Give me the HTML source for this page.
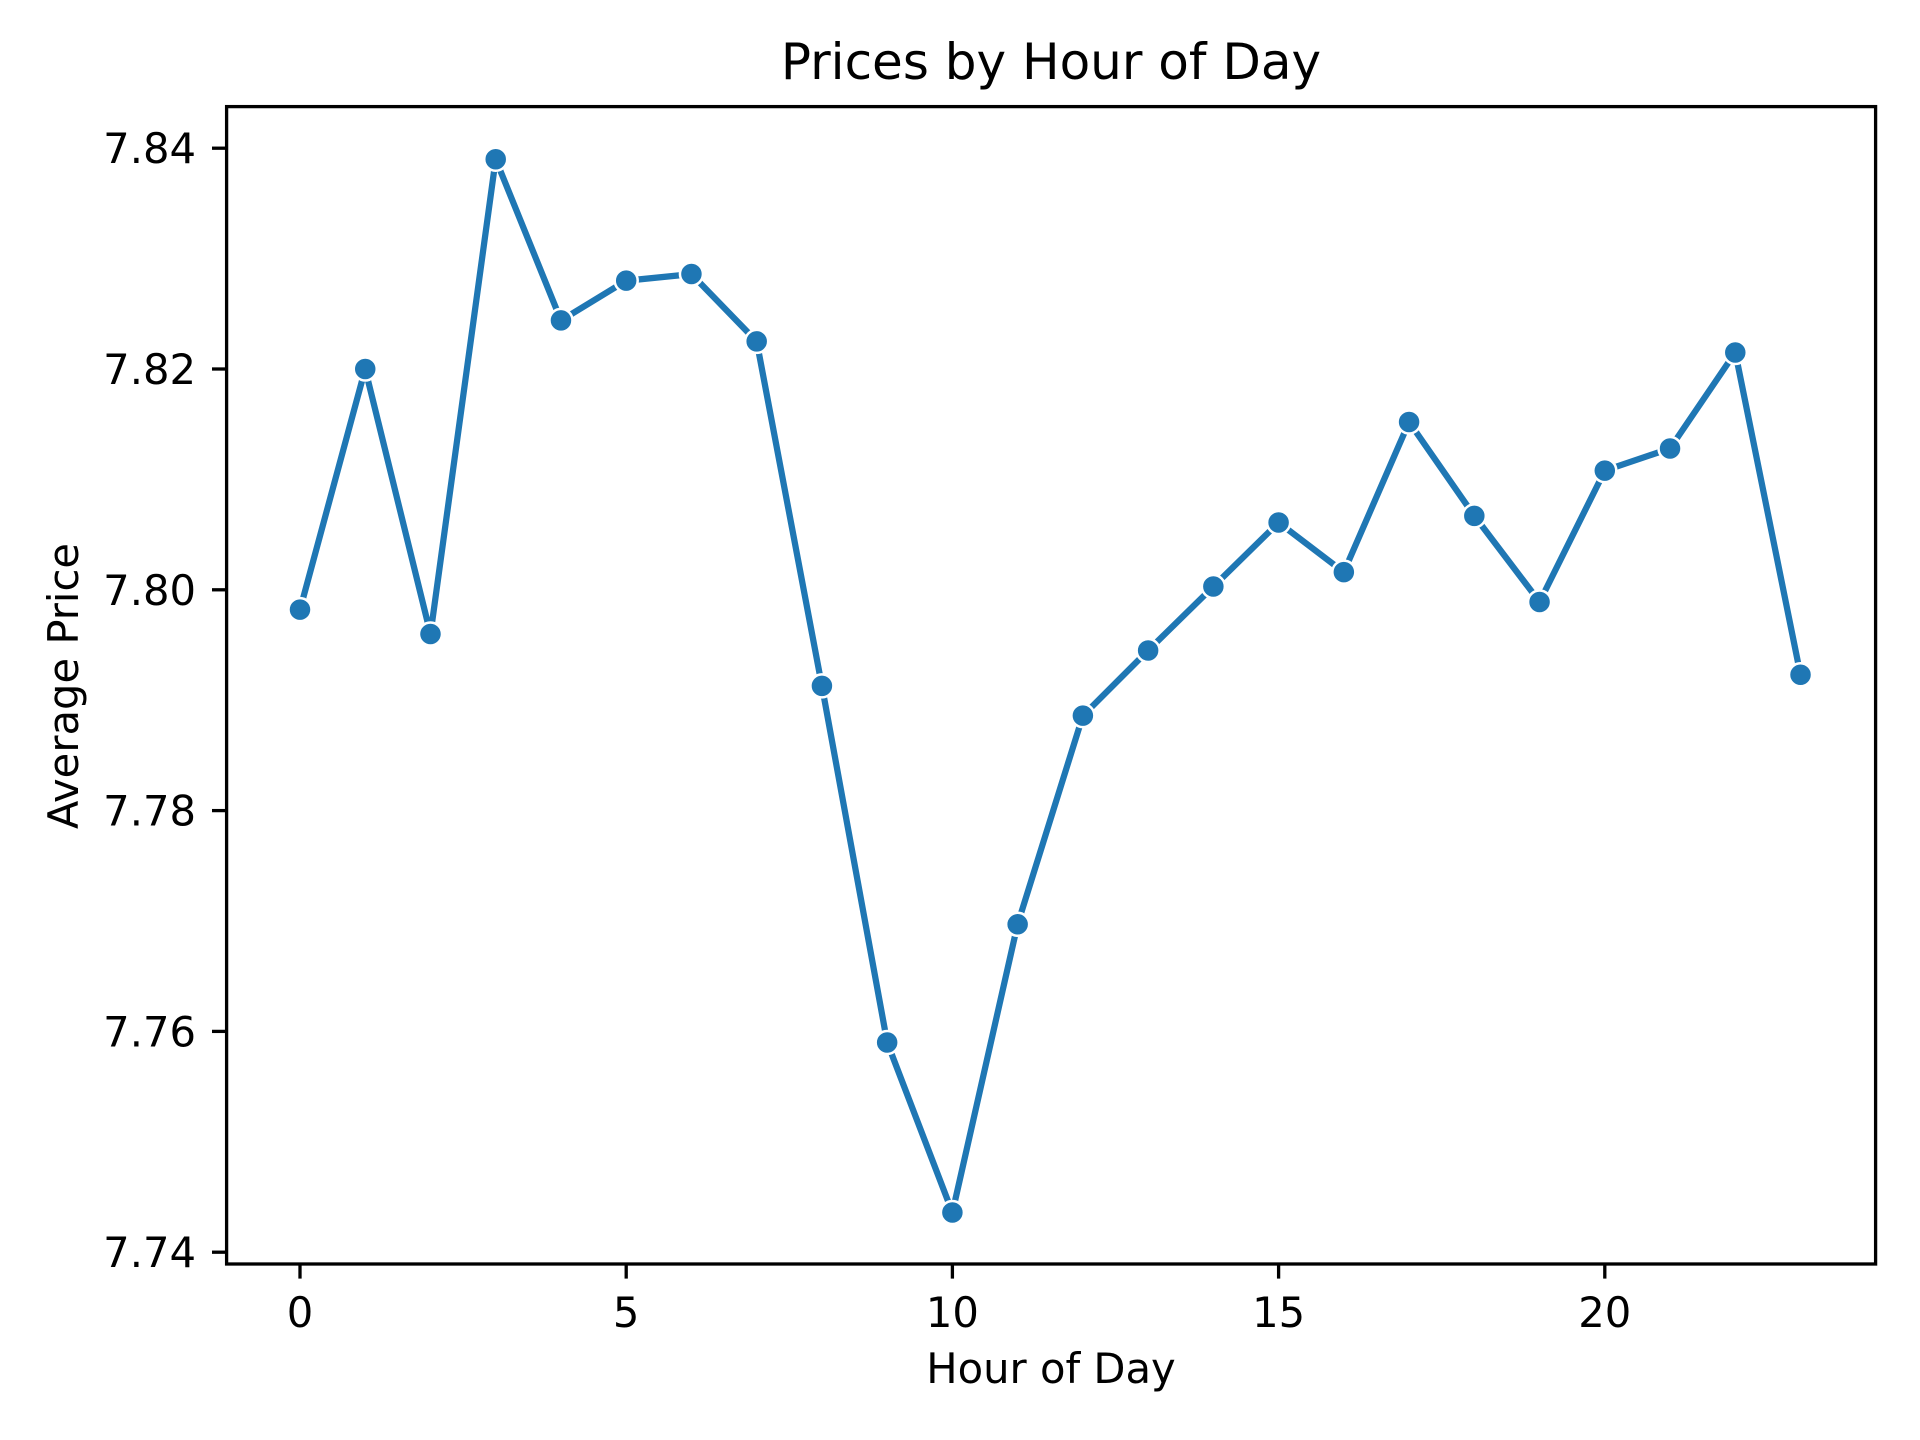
<!DOCTYPE html>
<html><head><meta charset="utf-8"><style>html,body{margin:0;padding:0;background:#fff}svg{display:block}text{font-family:"DejaVu Sans","Liberation Sans",sans-serif;fill:#000}</style></head>
<body>
<svg id="chart" width="1920" height="1440" viewBox="0 0 1920 1440">
<rect x="0" y="0" width="1920" height="1440" fill="#fff"/>
<text x="1051" y="79" font-size="50" text-anchor="middle">Prices by Hour of Day</text>
<text x="1051" y="1383" font-size="41.7" text-anchor="middle">Hour of Day</text>
<text transform="translate(78,686) rotate(-90)" font-size="41.7" text-anchor="middle">Average Price</text>
<g id="xticks"></g>
<g id="yticks"></g>
<g id="series"></g>
<rect x="226.6" y="106.6" width="1649" height="1157.4" fill="none" stroke="#000" stroke-width="3.3"/>
</svg>
<script>
const hours = [0,1,2,3,4,5,6,7,8,9,10,11,12,13,14,15,16,17,18,19,20,21,22,23];
const prices = [7.7982,7.8200,7.7960,7.8390,7.8244,7.8280,7.8286,7.8225,7.7913,7.7590,7.7436,7.7697,7.7886,7.7945,7.8003,7.8061,7.8016,7.8152,7.8067,7.7989,7.8108,7.8128,7.8215,7.7923];
const xTicks = [0,5,10,15,20];
const yTicks = [7.74,7.76,7.78,7.80,7.82,7.84];
const yTickLabels = ["7.74","7.76","7.78","7.80","7.82","7.84"];

const NS = "http://www.w3.org/2000/svg";
const L = 226.6, B = 1264;
function xs(v){ return 300 + v * 65.24; }
function ys(v){ return 148.2 + (7.84 - v) / 0.02 * 220.8; }
function mk(tag, attrs, parent){ const e = document.createElementNS(NS, tag); for (const k in attrs) e.setAttribute(k, attrs[k]); parent.appendChild(e); return e; }

const gx = document.getElementById('xticks');
xTicks.forEach(t => {
  const ln = mk('line', {x1: xs(t), x2: xs(t), y1: B, y2: B + 14.6, stroke: '#000', 'stroke-width': 3.3}, gx);
  
  
  const tx = mk('text', {x: xs(t), y: 1327, 'font-size': 41.7, 'text-anchor': 'middle'}, gx);
  tx.textContent = String(t);
  
  
});
const gy = document.getElementById('yticks');
yTicks.forEach((t, i) => {
  const ln = mk('line', {x1: L - 14.6, x2: L, y1: ys(t), y2: ys(t), stroke: '#000', 'stroke-width': 3.3}, gy);
  
  
  const tx = mk('text', {x: 196, y: ys(t) + 15, 'font-size': 41.7, 'text-anchor': 'end'}, gy);
  tx.textContent = yTickLabels[i];
  
  
});
const gs = document.getElementById('series');
const pts = hours.map((h, i) => xs(h).toFixed(1) + ',' + ys(prices[i]).toFixed(1)).join(' ');
const line = mk('polyline', {points: pts, fill: 'none', stroke: '#1f77b4', 'stroke-width': 6.25, 'stroke-linejoin': 'round', 'stroke-linecap': 'square'}, gs);


hours.forEach((h, i) => {
  const c = mk('circle', {cx: xs(h), cy: ys(prices[i]), r: 11.5, fill: '#1f77b4', stroke: '#fff', 'stroke-width': 2.5}, gs);
  
  
});
</script>
</body></html>
